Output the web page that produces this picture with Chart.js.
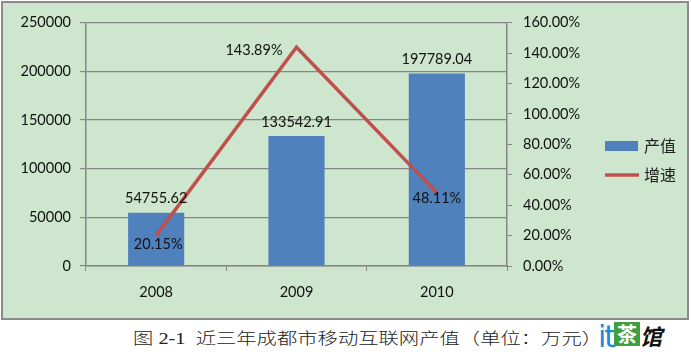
<!DOCTYPE html>
<html>
<head>
<meta charset="utf-8">
<script src="https://cdn.jsdelivr.net/npm/chart.js@4/dist/chart.umd.min.js"></script>
<style>
  body { margin: 0; background: #fff; width: 691px; height: 355px; position: relative; overflow: hidden; }
  #box { position: absolute; left: 1px; top: 1px; width: 684px; height: 315px; border: 2px solid #8a8a8a; background: #cee6cd; }
  #caption { position: absolute; left: 133px; top: 330px; font: 300 16px "Liberation Serif", "Noto Sans CJK SC", serif; color: #222; white-space: nowrap; transform: scaleX(1.27); transform-origin: left top; line-height: 18px; }
  #logo { position: absolute; left: 598px; top: 319px; height: 30px; white-space: nowrap; line-height: 30px; }
  #logo .it { color: #1d8ad8; font: 30px "DejaVu Sans", sans-serif; letter-spacing: -2px; vertical-align: top; }
  #logo .cha { display: inline-block; background: #3f9e3f; color: #fff; font: bold 20px "Noto Sans CJK SC"; width: 26px; height: 24px; line-height: 24px; text-align: center; margin-top: 3px; vertical-align: top; }
  #logo .guan { color: #111; font: italic bold 22px "Noto Sans CJK SC"; vertical-align: top; }
</style>
</head>
<body>
<div id="box"><canvas id="chart" width="684" height="315"></canvas></div>
<div id="caption">图 2-1&nbsp; 近三年成都市移动互联网产值（单位：万元）</div>
<div id="logo"><span class="it">it</span><span class="cha">茶</span><span class="guan">馆</span></div>
<script>
const years = ['2008', '2009', '2010'];
const outputValue = [54755.62, 133542.91, 197789.04]; // 产值, 万元
const growthRate = [20.15, 143.89, 48.11];             // 增速, %
const growthLabelPlace = ['below', 'left', 'center'];

const fontFamily = 'Lato';
const fontSize = 14.5;
const textFont = fontSize + 'px "Lato"';
const gridColor = '#868686';

// подписи значений + легенда справа
const labelsPlugin = {
    id: 'labels',
    afterDatasetsDraw(chart) {
        const ctx = chart.ctx;
        ctx.save();
        ctx.font = textFont;
        ctx.fillStyle = '#111';
        ctx.textBaseline = 'middle';
        ctx.textAlign = 'center';
        chart.getDatasetMeta(1).data.forEach((bar, i) => {
            ctx.fillText(outputValue[i].toFixed(2), bar.x, bar.y - 14);
        });
        chart.getDatasetMeta(0).data.forEach((p, i) => {
            const txt = growthRate[i].toFixed(2) + '%';
            const place = growthLabelPlace[i];
            if (place === 'left') {
                ctx.textAlign = 'right';
                ctx.fillText(txt, p.x - 14, p.y + 3);
            } else if (place === 'below') {
                ctx.textAlign = 'center';
                ctx.fillText(txt, p.x + 2, p.y + 9);
            } else {
                ctx.textAlign = 'center';
                ctx.fillText(txt, p.x, p.y + 5);
            }
        });
        ctx.restore();
    },
    afterDraw(chart) {
        const ctx = chart.ctx;
        const sets = chart.data.datasets;
        ctx.save();
        ctx.font = '16px "Noto Sans CJK SC"';
        ctx.textBaseline = 'middle';
        ctx.textAlign = 'left';
        // bar item
        ctx.fillStyle = sets[1].backgroundColor;
        ctx.fillRect(602, 138, 33, 10);
        ctx.fillStyle = '#222';
        ctx.fillText(sets[1].label, 641, 143);
        // line item
        ctx.strokeStyle = sets[0].borderColor;
        ctx.lineWidth = 3.5;
        ctx.beginPath();
        ctx.moveTo(602, 172);
        ctx.lineTo(636, 172);
        ctx.stroke();
        ctx.fillText(sets[0].label, 641, 172);
        ctx.restore();
    }
};

new Chart(document.getElementById('chart'), {
    type: 'bar',
    data: {
        labels: years,
        datasets: [{
            type: 'line',
            label: '增速',
            data: growthRate,
            yAxisID: 'y1',
            borderColor: '#c0504d',
            borderWidth: 3.5,
            pointRadius: 0,
            tension: 0,
            order: 0
        }, {
            label: '产值',
            data: outputValue,
            yAxisID: 'y',
            backgroundColor: '#4f81bd',
            barPercentage: 0.4,
            categoryPercentage: 1,
            order: 1
        }]
    },
    options: {
        responsive: false,
        animation: false,
        layout: { padding: { top: 17, left: 0, right: 0, bottom: 0 } },
        plugins: { legend: { display: false }, tooltip: { enabled: false } },
        scales: {
            x: {
                grid: { offset: true, drawOnChartArea: false, tickLength: 5, color: gridColor },
                border: { color: gridColor, width: 1.5 },
                ticks: { font: { family: fontFamily, size: fontSize }, color: '#111', padding: 13 },
                afterFit: s => { s.height = 52; }
            },
            y: {
                min: 0, max: 250000,
                ticks: {
                    stepSize: 50000, font: { family: fontFamily, size: fontSize }, color: '#111', padding: 9,
                    callback: v => String(v)
                },
                grid: { color: gridColor, lineWidth: 1.2, tickLength: 6 },
                border: { color: gridColor, width: 1.5 },
                afterFit: s => { s.width = 83; }
            },
            y1: {
                position: 'right',
                min: 0, max: 160,
                ticks: {
                    stepSize: 20,
                    font: { family: fontFamily, size: fontSize }, color: '#111', padding: 11,
                    callback: v => v.toFixed(2) + '%'
                },
                grid: { drawOnChartArea: false, color: gridColor, tickLength: 5 },
                border: { color: gridColor, width: 1.5 },
                afterFit: s => { s.width = 180; }
            }
        }
    },
    plugins: [labelsPlugin]
});
</script>
</body>
</html>
